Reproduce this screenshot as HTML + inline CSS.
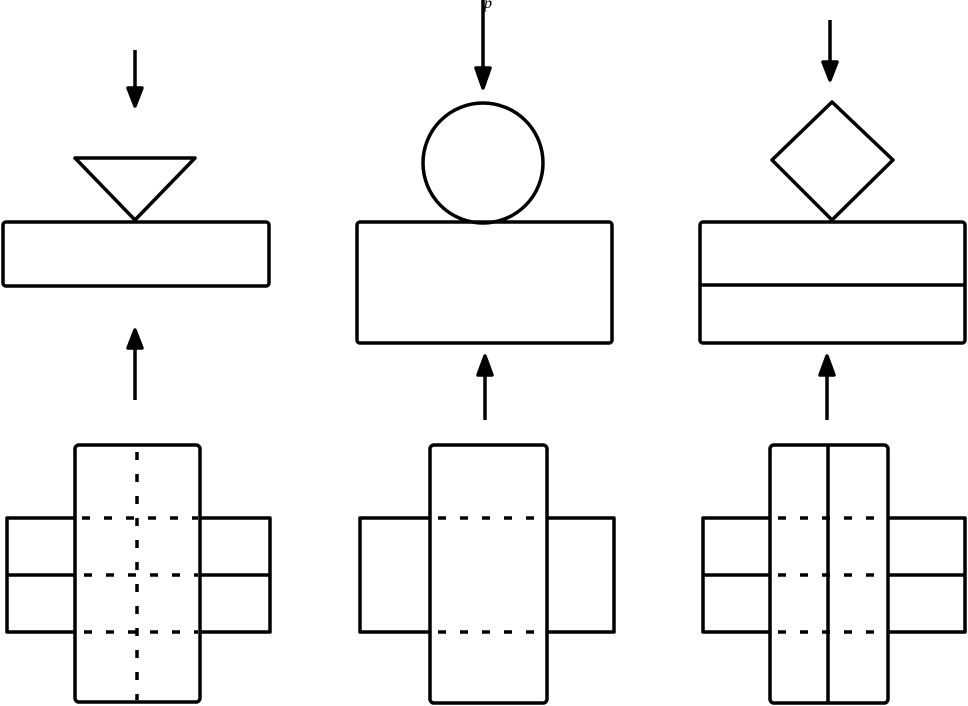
<!DOCTYPE html>
<html><head><style>html,body{margin:0;padding:0;background:#fff}svg{display:block}</style></head><body>
<svg width="968" height="706" viewBox="0 0 968 706" xmlns="http://www.w3.org/2000/svg">
<defs><marker id="a" markerWidth="10" markerHeight="10" refX="5" refY="5" orient="auto" markerUnits="userSpaceOnUse"><path d="M0,0 L10,5 L0,10 z" fill="#000"/></marker></defs>
<g stroke="#000" stroke-width="3.5" fill="none" stroke-linejoin="round">
<!-- panel 1 -->
<line x1="135" y1="50" x2="135" y2="92"/><path d="M128,88 L135,106 L142,88 z" fill="#000"/>
<path d="M75,158 L195,158 L135,220 z"/>
<rect x="3" y="222" width="266" height="64" rx="3"/>
<line x1="135" y1="400" x2="135" y2="345"/><path d="M128,348 L135,330 L142,348 z" fill="#000"/>
<rect x="75" y="445" width="125" height="257" rx="4"/>
<path d="M75,518 L7,518 L7,632 L75,632 M7,575 L75,575"/>
<path d="M200,518 L270,518 L270,632 L200,632 M200,575 L270,575"/>
<g stroke-dasharray="8 14"><line x1="82" y1="518" x2="198" y2="518"/><line x1="84" y1="575" x2="198" y2="575"/><line x1="84" y1="632" x2="198" y2="632"/><line x1="137" y1="452" x2="137" y2="700"/></g>
<!-- panel 2 -->
<line x1="483" y1="0" x2="483" y2="72"/><path d="M476,68 L483,88 L490,68 z" fill="#000"/>
<text x="484" y="8" font-family="Liberation Serif" font-style="italic" font-size="16" stroke="none" fill="#000">p</text>
<circle cx="483" cy="163" r="60"/>
<rect x="357" y="222" width="255" height="121" rx="3"/>
<line x1="485" y1="420" x2="485" y2="372"/><path d="M478,375 L485,356 L492,375 z" fill="#000"/>
<rect x="430" y="445" width="117" height="258" rx="4"/>
<path d="M430,518 L360,518 L360,632 L430,632"/>
<path d="M547,518 L614,518 L614,632 L547,632"/>
<g stroke-dasharray="8 14"><line x1="438" y1="518" x2="545" y2="518"/><line x1="438" y1="632" x2="545" y2="632"/></g>
<!-- panel 3 -->
<line x1="830" y1="20" x2="830" y2="66"/><path d="M823,62 L830,80 L837,62 z" fill="#000"/>
<path d="M832,102 L893,160 L832,220 L772,160 z"/>
<rect x="700" y="222" width="265" height="121" rx="3"/>
<line x1="700" y1="285" x2="965" y2="285"/>
<line x1="827" y1="420" x2="827" y2="372"/><path d="M820,375 L827,356 L834,375 z" fill="#000"/>
<rect x="770" y="445" width="118" height="258" rx="4"/>
<line x1="828" y1="445" x2="828" y2="703"/>
<path d="M770,518 L703,518 L703,632 L770,632 M703,575 L770,575"/>
<path d="M888,518 L965,518 L965,632 L888,632 M888,575 L965,575"/>
<g stroke-dasharray="8 14"><line x1="778" y1="518" x2="886" y2="518"/><line x1="778" y1="575" x2="886" y2="575"/><line x1="778" y1="632" x2="886" y2="632"/></g>
</g>
</svg>
</body></html>
